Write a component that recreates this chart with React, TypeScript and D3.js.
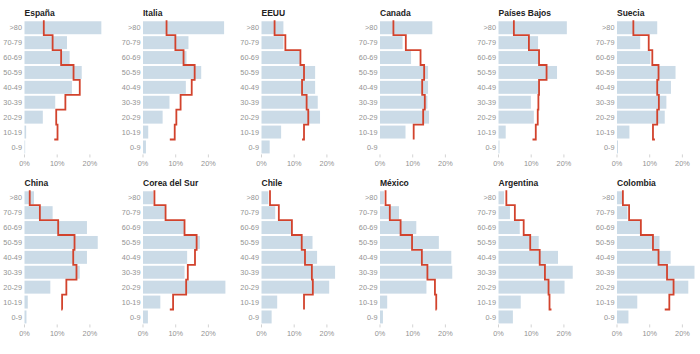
import React from "react";
import * as d3 from "d3";

const countries = [
  "España", "Italia", "EEUU", "Canada", "Países Bajos", "Suecia",
  "China", "Corea del Sur", "Chile", "México", "Argentina", "Colombia",
];
const ageGroups = [">80", "70-79", "60-69", "50-59", "40-49", "30-39", "20-29", "10-19", "0-9"];
const tickValues = [0, 10, 20];

// Bars (light blue), % per age group, in ageGroups order
const barValues = [
  [23.5, 13.0, 13.8, 17.5, 14.5, 9.4, 5.6, 0.5, 0.2],
  [24.8, 13.9, 13.3, 17.8, 13.1, 8.1, 6.0, 1.6, 0.9],
  [6.7, 6.7, 11.7, 16.4, 16.4, 17.2, 17.9, 6.0, 2.5],
  [16.0, 6.9, 9.5, 14.7, 14.7, 14.5, 15.0, 7.8, 0],
  [20.9, 12.1, 12.4, 17.9, 12.6, 9.9, 10.8, 2.2, 0.3],
  [12.3, 7.1, 10.2, 17.9, 16.5, 15.1, 14.6, 3.8, 0.3],
  [2.9, 8.6, 19.1, 22.4, 19.1, 16.9, 7.9, 1.0, 0.6],
  [3.2, 6.7, 12.6, 17.4, 13.5, 12.7, 25.2, 5.3, 1.5],
  [2.1, 4.2, 9.3, 15.6, 17.0, 22.5, 20.7, 4.8, 3.1],
  [1.2, 5.8, 11.1, 18.0, 21.8, 22.1, 14.2, 2.2, 0.9],
  [1.7, 3.5, 6.5, 12.3, 18.2, 22.7, 20.2, 6.8, 4.4],
  [1.6, 3.2, 7.1, 13.0, 16.4, 23.7, 21.8, 6.2, 3.5],
];

// Red step line, % per age group, in ageGroups order
const lineValues = [
  [5.9, 8.6, 11.2, 15.0, 16.9, 12.5, 9.7, 10.1, 9.1],
  [7.2, 9.9, 12.4, 15.8, 14.9, 11.5, 10.2, 9.7, 8.2],
  [4.0, 7.3, 11.9, 13.0, 12.4, 13.8, 14.3, 13.0, 12.4],
  [4.1, 7.9, 12.4, 13.5, 12.9, 13.7, 13.2, 10.3, 10.3],
  [4.7, 9.3, 12.4, 14.7, 12.4, 12.2, 12.0, 11.4, 10.4],
  [5.0, 9.7, 10.8, 12.7, 12.3, 12.8, 12.3, 11.0, 11.6],
  [1.6, 4.7, 10.3, 15.3, 14.9, 15.9, 12.8, 11.5, 11.6],
  [3.5, 6.9, 12.7, 16.4, 15.9, 13.7, 13.2, 9.2, 8.2],
  [2.6, 5.3, 9.3, 12.3, 13.3, 15.4, 15.7, 13.0, 13.0],
  [1.7, 3.0, 6.3, 9.8, 12.8, 14.5, 16.8, 17.2, 17.3],
  [2.4, 5.0, 7.7, 9.7, 12.6, 14.2, 15.3, 15.6, 16.2],
  [1.8, 3.7, 7.3, 11.0, 12.7, 15.3, 17.3, 16.0, 14.6],
];

const W = 700;
const H = 354;
const COLS = 6;
const COL0 = 24.5;
const COL_STEP = 118.5;
const ROW_STEP = 170;

const LABEL_FONT = "'Liberation Sans', Arial, sans-serif";

export default function App() {
  const x = d3.scaleLinear().domain([0, 25]).range([0, 81.75]);
  const y = d3
    .scaleBand<string>()
    .domain(ageGroups)
    .range([20.3, 154.4])
    .paddingInner(0.13)
    .paddingOuter(0.065);
  const gap = y.step() - y.bandwidth();
  const axisY = (y(ageGroups[ageGroups.length - 1]) as number) + y.bandwidth();

  const line = d3
    .line<number>()
    .x((d) => x(d))
    .y((_, i) => (y(ageGroups[i]) as number) - gap / 2)
    .curve(d3.curveStepBefore);

  return (
    <svg
      width={W}
      height={H}
      style={{ position: "absolute", left: 0, top: 0, background: "#fff" }}
    >
      {countries.map((name, ci) => {
        const tx = COL0 + (ci % COLS) * COL_STEP;
        const ty = Math.floor(ci / COLS) * ROW_STEP;
        return (
          <g key={name} transform={`translate(${tx},${ty})`}>
            <text
              x={0}
              y={16}
              fontFamily={LABEL_FONT}
              fontWeight="bold"
              fontSize={8.5}
              fill="#222"
            >
              {name}
            </text>
            {ageGroups.map((a) => (
              <text
                key={a}
                x={-2.5}
                y={(y(a) as number) + y.bandwidth() / 2}
                dy="0.35em"
                textAnchor="end"
                fontFamily={LABEL_FONT}
                fontSize={7.3}
                fill="#939393"
              >
                {a}
              </text>
            ))}
            {barValues[ci].map((v, i) => (
              <rect
                key={i}
                x={0}
                y={y(ageGroups[i]) as number}
                width={x(v)}
                height={y.bandwidth()}
                fill="#cbdbe7"
              />
            ))}
            <path
              d={line(lineValues[ci]) || ""}
              fill="none"
              stroke="#d2432d"
              strokeWidth={1.8}
            />
            {tickValues.map((t) => (
              <g key={t} transform={`translate(${x(t)},0)`}>
                <line y1={axisY + 1} y2={axisY + 4} stroke="#c8c8c8" strokeWidth={0.8} />
                <text
                  y={axisY + 13}
                  textAnchor="middle"
                  fontFamily={LABEL_FONT}
                  fontSize={7.3}
                  fill="#939393"
                >
                  {t}%
                </text>
              </g>
            ))}
          </g>
        );
      })}
    </svg>
  );
}
